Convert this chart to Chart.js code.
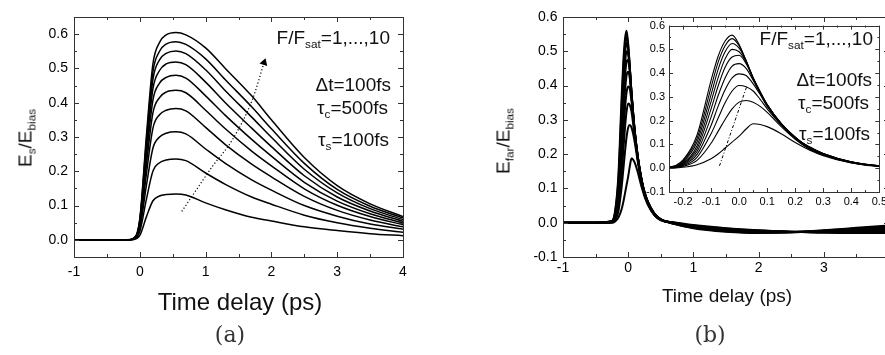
<!DOCTYPE html>
<html>
<head>
<meta charset="utf-8">
<script src="https://cdn.jsdelivr.net/npm/chart.js@4.4.0/dist/chart.umd.min.js"></script>
<style>
  body { margin: 0; background: #fff; }
  #wrap { position: relative; width: 885px; height: 355px; overflow: hidden;
          font-family: "Liberation Sans", Arial, sans-serif; color: #111; }
  canvas { position: absolute; }
  .txt { position: absolute; white-space: nowrap; line-height: 1; }
  .txt sub { font-size: 0.62em; vertical-align: baseline; position: relative; top: 0.38em; }
  .ytitle { transform: translate(-50%, -50%) rotate(-90deg); }
  .ann { font-size: 19px; transform: translateX(-100%); }
  .mid { transform: translateX(-50%); }
  .cap { font-family: "DejaVu Serif", "Liberation Serif", serif; font-size: 22px; color: #333; }
</style>
</head>
<body>
<div id="wrap">
  <canvas id="chart-a" width="420" height="355" style="left:0;top:0"></canvas>
  <canvas id="chart-b" width="460" height="355" style="left:440px;top:0"></canvas>
  <canvas id="chart-inset" width="260" height="200" style="left:630px;top:15px"></canvas>

  <div class="txt ytitle" style="left:25px;top:138px;font-size:19px">E<sub>s</sub>/E<sub>bias</sub></div>
  <div class="txt mid" style="left:240px;top:289.7px;font-size:24px">Time delay (ps)</div>
  <div class="txt ann" style="left:390px;top:28px">F/F<sub>sat</sub>=1,...,10</div>
  <div class="txt ann" style="left:391px;top:75px">&Delta;t=100fs</div>
  <div class="txt ann" style="left:388px;top:98px">&tau;<sub>c</sub>=500fs</div>
  <div class="txt ann" style="left:389px;top:130px">&tau;<sub>s</sub>=100fs</div>
  <div class="txt cap mid" style="left:230px;top:324.4px">(a)</div>

  <div class="txt ytitle" style="left:503px;top:141px;font-size:19px">E<sub>far</sub>/E<sub>bias</sub></div>
  <div class="txt mid" style="left:727px;top:285.6px;font-size:19px">Time delay (ps)</div>
  <div class="txt ann" style="left:873px;top:29px">F/F<sub>sat</sub>=1,...,10</div>
  <div class="txt ann" style="left:872px;top:70px">&Delta;t=100fs</div>
  <div class="txt ann" style="left:869px;top:93px">&tau;<sub>c</sub>=500fs</div>
  <div class="txt ann" style="left:870px;top:124px">&tau;<sub>s</sub>=100fs</div>
  <div class="txt cap mid" style="left:710px;top:324.4px">(b)</div>
</div>

<script>
// (a) surface field, one curve per fluence F/Fsat = 1..10
const timeA = [-1, -0.2, -0.1, 0, 0.1, 0.2, 0.3, 0.4, 0.55, 0.7, 1.0, 1.3, 1.7, 2.0, 2.5, 3.0, 3.5, 4.0];
const esF1  = [0, 0, 0.001, 0.013, 0.067, 0.114, 0.128, 0.132, 0.134, 0.131, 0.108, 0.088, 0.066, 0.055, 0.038, 0.027, 0.018, 0.012];
const esF2  = [0, 0, 0.001, 0.024, 0.118, 0.201, 0.225, 0.233, 0.236, 0.231, 0.195, 0.162, 0.125, 0.104, 0.072, 0.050, 0.034, 0.022];
const esF3  = [0, 0, 0.002, 0.032, 0.158, 0.268, 0.300, 0.311, 0.315, 0.309, 0.265, 0.223, 0.175, 0.145, 0.100, 0.069, 0.046, 0.031];
const esF4  = [0, 0, 0.002, 0.038, 0.192, 0.326, 0.365, 0.378, 0.383, 0.376, 0.328, 0.278, 0.221, 0.184, 0.127, 0.086, 0.058, 0.038];
const esF5  = [0, 0, 0.003, 0.044, 0.218, 0.371, 0.415, 0.431, 0.436, 0.429, 0.378, 0.324, 0.259, 0.216, 0.149, 0.101, 0.068, 0.044];
const esF6  = [0, 0, 0.003, 0.048, 0.240, 0.408, 0.457, 0.474, 0.480, 0.472, 0.420, 0.363, 0.293, 0.244, 0.168, 0.113, 0.076, 0.049];
const esF7  = [0, 0, 0.003, 0.052, 0.260, 0.441, 0.494, 0.513, 0.519, 0.511, 0.460, 0.400, 0.326, 0.272, 0.187, 0.125, 0.084, 0.054];
const esF8  = [0, 0, 0.003, 0.055, 0.276, 0.468, 0.525, 0.544, 0.551, 0.543, 0.496, 0.435, 0.358, 0.299, 0.206, 0.137, 0.091, 0.059];
const esF9  = [0, 0, 0.003, 0.058, 0.289, 0.491, 0.550, 0.571, 0.578, 0.570, 0.528, 0.467, 0.388, 0.324, 0.223, 0.147, 0.098, 0.064];
const esF10 = [0, 0, 0.004, 0.061, 0.303, 0.514, 0.576, 0.598, 0.605, 0.598, 0.560, 0.500, 0.420, 0.350, 0.240, 0.158, 0.105, 0.068];
const surfaceCurves = [esF1, esF2, esF3, esF4, esF5, esF6, esF7, esF8, esF9, esF10];

// dotted arrow across the peaks (increasing fluence)
const arrowTime  = [0.638, 1.103, 1.407, 1.711, 1.889];
const arrowLevel = [0.083, 0.214, 0.292, 0.409, 0.517];

// (b) far field, same fluences
const timeB = [-1, -0.5, -0.25, -0.2, -0.15, -0.1, -0.075, -0.05, -0.025, 0, 0.025, 0.05, 0.075, 0.1,
               0.15, 0.2, 0.25, 0.3, 0.4, 0.5, 0.7, 1.0, 1.5, 2.0, 2.5, 3.0, 3.5, 4.0];
const efF1  = [0, 0, 0.000, 0.004, 0.015, 0.040, 0.060, 0.085, 0.110, 0.135, 0.165, 0.187, 0.184, 0.175,
               0.145, 0.108, 0.077, 0.053, 0.022, 0.007, 0.001, -0.007, -0.016, -0.022, -0.026, -0.029, -0.030, -0.030];
const efF2  = [0, 0, 0.001, 0.008, 0.033, 0.105, 0.155, 0.205, 0.250, 0.278, 0.285, 0.278, 0.260, 0.235,
               0.175, 0.122, 0.081, 0.056, 0.023, 0.008, 0.001, -0.008, -0.017, -0.023, -0.026, -0.028, -0.028, -0.028];
const efF3  = [0, 0, 0.001, 0.011, 0.046, 0.145, 0.210, 0.275, 0.325, 0.348, 0.343, 0.325, 0.290, 0.250,
               0.182, 0.127, 0.083, 0.057, 0.024, 0.008, 0.000, -0.009, -0.018, -0.024, -0.026, -0.027, -0.027, -0.025];
const efF4  = [0, 0, 0.002, 0.014, 0.058, 0.180, 0.260, 0.330, 0.380, 0.397, 0.390, 0.355, 0.310, 0.260,
               0.186, 0.130, 0.085, 0.058, 0.024, 0.009, 0.000, -0.010, -0.019, -0.025, -0.027, -0.027, -0.025, -0.023];
const efF5  = [0, 0, 0.002, 0.017, 0.070, 0.215, 0.305, 0.380, 0.430, 0.440, 0.420, 0.370, 0.317, 0.266,
               0.188, 0.131, 0.086, 0.059, 0.025, 0.009, -0.001, -0.011, -0.020, -0.026, -0.027, -0.026, -0.023, -0.020];
const efF6  = [0, 0, 0.003, 0.020, 0.082, 0.250, 0.345, 0.425, 0.468, 0.475, 0.440, 0.380, 0.322, 0.268,
               0.189, 0.131, 0.087, 0.060, 0.025, 0.009, -0.001, -0.012, -0.022, -0.026, -0.027, -0.025, -0.022, -0.018];
const efF7  = [0, 0, 0.003, 0.023, 0.095, 0.280, 0.380, 0.460, 0.500, 0.490, 0.447, 0.381, 0.322, 0.268,
               0.188, 0.130, 0.088, 0.060, 0.026, 0.010, -0.002, -0.013, -0.023, -0.027, -0.027, -0.024, -0.020, -0.015];
const efF8  = [0, 0, 0.004, 0.027, 0.110, 0.310, 0.415, 0.490, 0.525, 0.505, 0.452, 0.380, 0.320, 0.267,
               0.187, 0.129, 0.089, 0.061, 0.026, 0.010, -0.002, -0.014, -0.024, -0.028, -0.028, -0.024, -0.018, -0.013];
const efF9  = [0, 0, 0.004, 0.031, 0.125, 0.340, 0.445, 0.515, 0.545, 0.515, 0.452, 0.378, 0.318, 0.265,
               0.185, 0.127, 0.090, 0.062, 0.027, 0.010, -0.003, -0.015, -0.025, -0.029, -0.028, -0.023, -0.017, -0.010];
const efF10 = [0, 0, 0.005, 0.035, 0.140, 0.370, 0.470, 0.535, 0.560, 0.520, 0.450, 0.375, 0.315, 0.262,
               0.182, 0.125, 0.090, 0.062, 0.027, 0.010, -0.003, -0.016, -0.026, -0.030, -0.028, -0.022, -0.015, -0.008];
const farCurves = [efF1, efF2, efF3, efF4, efF5, efF6, efF7, efF8, efF9, efF10];

// dash-dot guide through the inset peaks
const guideTime  = [-0.07, 0.026];
const guideLevel = [0.01, 0.34];

// labelled ticks
const xLabelsA = [-1, 0, 1, 2, 3, 4];
const yLabelsA = [0, 0.1, 0.2, 0.3, 0.4, 0.5, 0.6];
const xLabelsB = [-1, 0, 1, 2, 3, 4];
const yLabelsB = [-0.1, 0, 0.1, 0.2, 0.3, 0.4, 0.5, 0.6];
const xLabelsInset = [-0.2, -0.1, 0, 0.1, 0.2, 0.3, 0.4, 0.5];
const yLabelsInset = [-0.1, 0, 0.1, 0.2, 0.3, 0.4, 0.5, 0.6];

Chart.defaults.font.family = '"Liberation Sans", Arial, sans-serif';
Chart.defaults.color = '#000';

const labelFrom = (list, digits) => (v) => {
    const clean = Math.abs(v) < 1e-9 ? 0 : v;
    return list.some(t => Math.abs(t - clean) < 1e-6) ? clean.toFixed(digits) : '';
};

const axis = (min, max, step, labels, digits, size, pad, afterFit) => ({
    type: 'linear', min, max,
    grid: { display: false, drawTicks: false },
    border: { display: false },
    ticks: { stepSize: step, autoSkip: false, maxRotation: 0, padding: pad,
             font: { size }, callback: labelFrom(labels, digits) },
    afterFit
});

const series = (times, values, width) => ({
    data: times.map((t, i) => ({ x: t, y: values[i] })),
    borderColor: '#000',
    borderWidth: width,
    pointRadius: 0,
    fill: false,
    cubicInterpolationMode: 'monotone'
});

// box around the plot with inward ticks, longer where a label sits
const frameTicks = {
    id: 'frameTicks',
    afterDraw(chart, args, opts) {
        const { ctx, chartArea: a, scales: { x, y } } = chart;
        ctx.save();
        ctx.strokeStyle = '#333';
        ctx.lineWidth = 1;
        ctx.strokeRect(Math.round(a.left) + 0.5, Math.round(a.top) + 0.5,
                       Math.round(a.right - a.left), Math.round(a.bottom - a.top));
        ctx.beginPath();
        x.ticks.forEach(t => {
            const px = Math.round(x.getPixelForValue(t.value)) + 0.5;
            const len = t.label !== '' ? opts.major : opts.minor;
            ctx.moveTo(px, a.bottom); ctx.lineTo(px, a.bottom - len);
            ctx.moveTo(px, a.top); ctx.lineTo(px, a.top + len);
        });
        y.ticks.forEach(t => {
            const py = Math.round(y.getPixelForValue(t.value)) + 0.5;
            const len = t.label !== '' ? opts.major : opts.minor;
            ctx.moveTo(a.left, py); ctx.lineTo(a.left + len, py);
            ctx.moveTo(a.right, py); ctx.lineTo(a.right - len, py);
        });
        ctx.stroke();
        ctx.restore();
    }
};

// white plot background so the inset hides what is behind it
const whiteArea = {
    id: 'whiteArea',
    beforeDraw(chart) {
        const { ctx, chartArea: a } = chart;
        ctx.save();
        ctx.fillStyle = '#fff';
        ctx.fillRect(a.left, a.top, a.right - a.left, a.bottom - a.top);
        ctx.restore();
    }
};

const baseOptions = (padding, scales, tickLen) => ({
    responsive: false,
    animation: false,
    devicePixelRatio: 1,
    layout: { padding },
    plugins: { legend: { display: false }, tooltip: { enabled: false }, frameTicks: tickLen },
    scales
});

const drawSurface = () => {
    const datasets = surfaceCurves.map(c => series(timeA, c, 1.5));
    datasets.push({
        ...series(arrowTime, arrowLevel, 1.2),
        borderDash: [1.2, 2.2],
        pointRadius: arrowTime.map((t, i) => i === arrowTime.length - 1 ? 3.5 : 0),
        pointStyle: 'triangle',
        pointRotation: 18,
        pointBackgroundColor: '#000',
        pointBorderColor: '#000'
    });
    new Chart(document.getElementById('chart-a'), {
        type: 'line',
        data: { datasets },
        options: baseOptions({ left: 0, top: 17, right: 17, bottom: 58 }, {
            x: axis(-1, 4, 0.5, xLabelsA, 0, 14, 7, s => { s.height = 40; }),
            y: axis(-0.05, 0.65, 0.05, yLabelsA, 1, 14, 6, s => { s.width = 74; })
        }, { major: 5, minor: 3 }),
        plugins: [frameTicks]
    });
};

const drawFar = () => {
    new Chart(document.getElementById('chart-b'), {
        type: 'line',
        data: { datasets: farCurves.map(c => series(timeB, c, 2)) },
        options: baseOptions({ left: 0, top: 17, right: 11, bottom: 58 }, {
            x: axis(-1, 4, 0.5, xLabelsB, 0, 14, 3, s => { s.height = 40; }),
            y: axis(-0.1, 0.6, 0.05, yLabelsB, 1, 14, 5.5, s => { s.width = 123; })
        }, { major: 5, minor: 3 }),
        plugins: [frameTicks]
    });

    const datasets = farCurves.map(c => series(timeB, c, 1.1));
    datasets.push({ ...series(guideTime, guideLevel, 1), borderDash: [3, 2, 1, 2] });
    new Chart(document.getElementById('chart-inset'), {
        type: 'line',
        data: { datasets },
        options: baseOptions({ left: 0, top: 10, right: 8, bottom: 3 }, {
            x: axis(-0.25, 0.5, 0.05, xLabelsInset, 1, 11, 3, s => { s.height = 20; }),
            y: axis(-0.1, 0.6, 0.05, yLabelsInset, 1, 11, 4, s => { s.width = 39; })
        }, { major: 4, minor: 2 }),
        plugins: [whiteArea, frameTicks]
    });
};

drawSurface();
drawFar();
</script>
</body>
</html>
